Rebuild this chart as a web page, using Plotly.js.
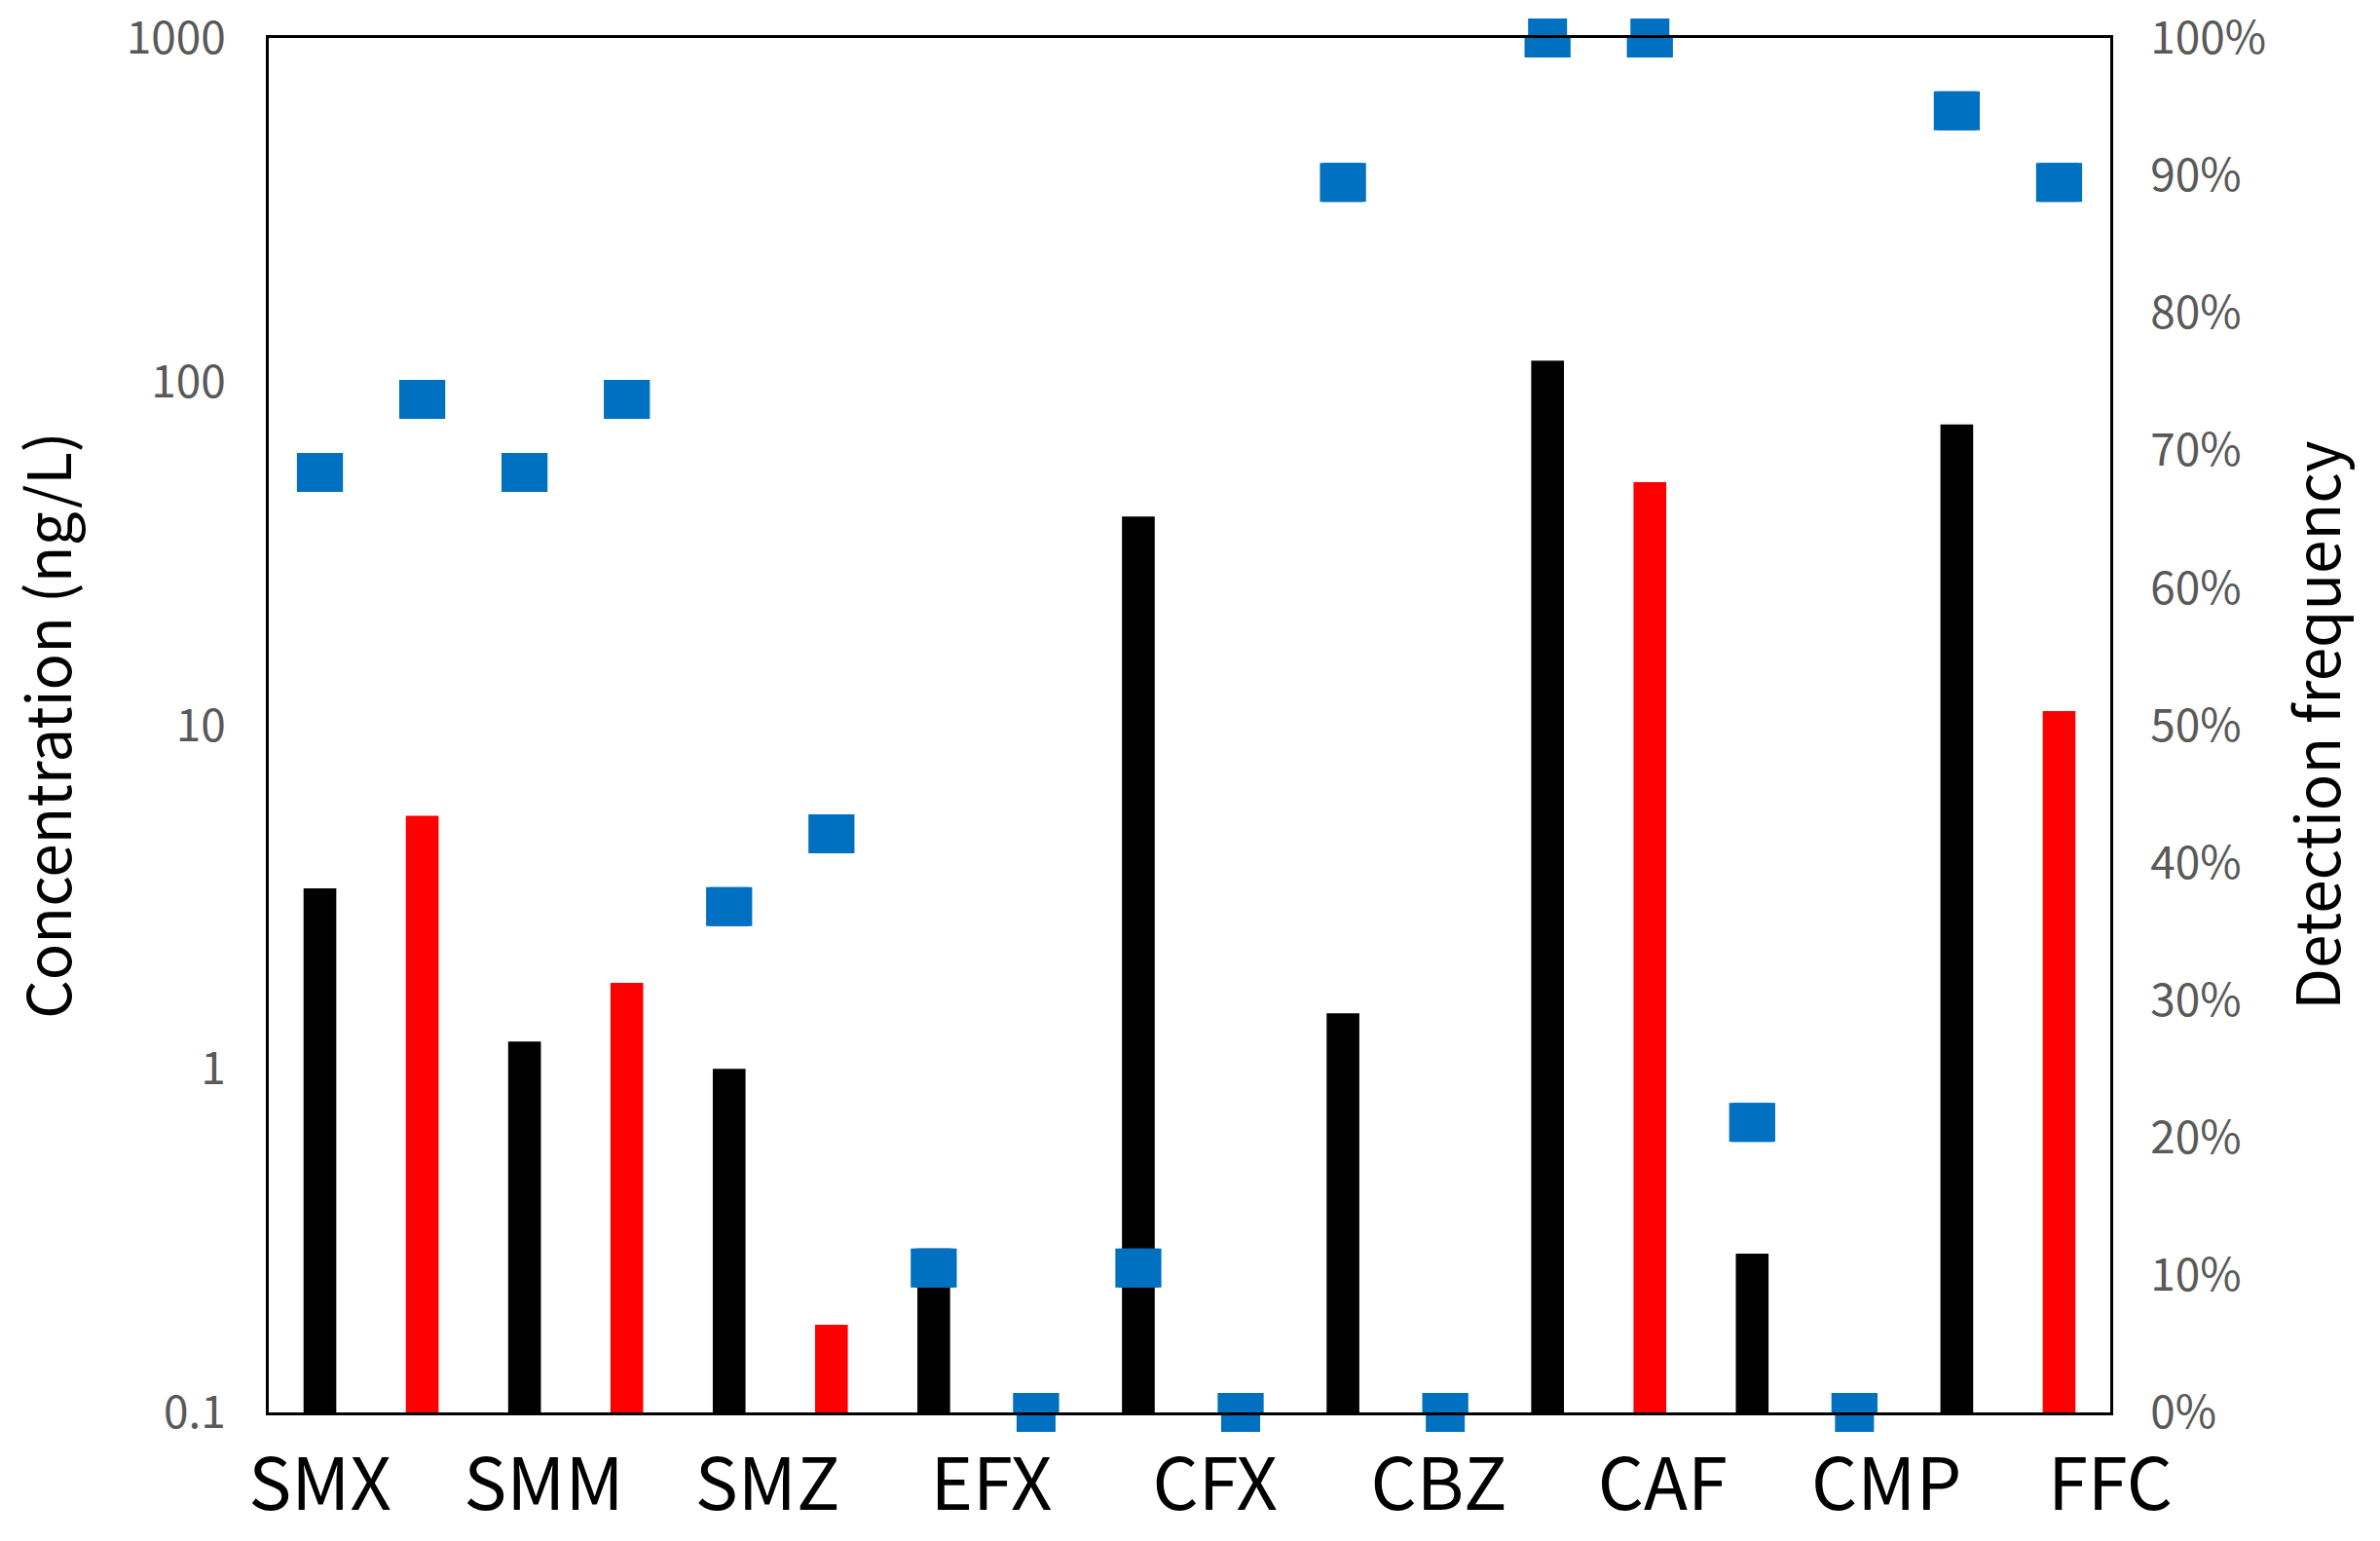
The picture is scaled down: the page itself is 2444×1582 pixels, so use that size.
<!DOCTYPE html>
<html>
<head>
<meta charset="utf-8">
<script src="https://cdn.plot.ly/plotly-3.0.1.min.js"></script>
<style>
  html, body { margin: 0; padding: 0; background: #fff; }
  #chart { width: 2444px; height: 1582px; }
</style>
</head>
<body>
<div id="chart"></div>
<script>
// Compounds (x categories)
const categories = ['SMX', 'SMM', 'SMZ', 'EFX', 'CFX', 'CBZ', 'CAF', 'CMP', 'FFC'];
// Concentration (ng/L), black bars (first series) and red bars (second series); null = not detected
const concBlack = [3.35, 1.2, 1.0, 0.30, 40.5, 1.45, 115, 0.29, 75];
const concRed   = [5.45, 1.78, 0.18, null, null, null, 51, null, 11];
// Detection frequency (%), matching each bar
const freqBlack = [68.4, 68.4, 36.8, 10.5, 10.5, 89.5, 100, 21.1, 94.7];
const freqRed   = [73.7, 73.7, 42.1, 0, 0, 0, 100, 0, 89.5];
// Axis ticks
const leftTicks = [0.1, 1, 10, 100, 1000];
const leftTickText = ['0.1', '1', '10', '100', '1000'];

const nSlots = categories.length * 2;
const xBlack = categories.map((c, i) => 2 * i);
const xRed = categories.map((c, i) => 2 * i + 1);
const labelPos = categories.map((c, i) => i * (nSlots - 0.5) / (categories.length - 1));

const tickFont = { family: 'Noto Sans CJK SC, Noto Sans, sans-serif', size: 46, color: '#595959' };
const titleFont = { family: 'Noto Sans CJK SC, Noto Sans, sans-serif', size: 62, color: '#000000' };

const markerStyle = {
  symbol: 'square', size: 40, color: '#0070C0', line: { width: 0 }
};
const errStyle = { type: 'constant', value: 0.225, thickness: 40, width: 0, color: '#0070C0' };

const traces = [
  { type: 'bar', x: xBlack, y: concBlack, width: 0.32, marker: { color: '#000000', line: { width: 0 } }, yaxis: 'y', name: 'c1' },
  { type: 'bar', x: xRed, y: concRed, width: 0.32, marker: { color: '#FF0000', line: { width: 0 } }, yaxis: 'y', name: 'c2' },
  { type: 'scatter', mode: 'markers', x: xBlack, y: freqBlack, yaxis: 'y2', marker: markerStyle, error_x: errStyle, cliponaxis: false, name: 'f1' },
  { type: 'scatter', mode: 'markers', x: xRed, y: freqRed, yaxis: 'y2', marker: markerStyle, error_x: errStyle, cliponaxis: false, name: 'f2' }
];

const layout = {
  width: 2444, height: 1582,
  margin: { l: 276, r: 277, t: 39, b: 132, pad: 0 },
  paper_bgcolor: '#ffffff', plot_bgcolor: '#ffffff',
  showlegend: false,
  barmode: 'overlay',
  xaxis: {
    range: [-0.5, nSlots - 0.5],
    tickmode: 'array', tickvals: labelPos, ticktext: categories,
    ticks: '', showgrid: false, zeroline: false,
    showline: true, linecolor: '#000000', linewidth: 3, mirror: true,
    tickfont: { family: 'Noto Sans CJK SC, Noto Sans, sans-serif', size: 74, color: '#000000' },
    ticklabelstandoff: 8
  },
  yaxis: {
    type: 'log', range: [-1, 3],
    tickmode: 'array', tickvals: leftTicks, ticktext: leftTickText,
    ticks: '', showgrid: false, zeroline: false,
    showline: true, linecolor: '#000000', linewidth: 3,
    tickfont: tickFont, ticklabelstandoff: 32,
    title: { text: 'Concentration (ng/L)', font: titleFont, standoff: 36 }
  },
  yaxis2: {
    overlaying: 'y', side: 'right', range: [0, 100],
    tickmode: 'linear', tick0: 0, dtick: 10, ticksuffix: '%',
    ticks: '', showgrid: false, zeroline: false,
    showline: true, linecolor: '#000000', linewidth: 3,
    tickfont: tickFont, ticklabelstandoff: 29,
    title: { text: 'Detection frequency', font: titleFont, standoff: 34 }
  }
};

Plotly.newPlot('chart', traces, layout, { staticPlot: true, displayModeBar: false });
</script>
</body>
</html>
